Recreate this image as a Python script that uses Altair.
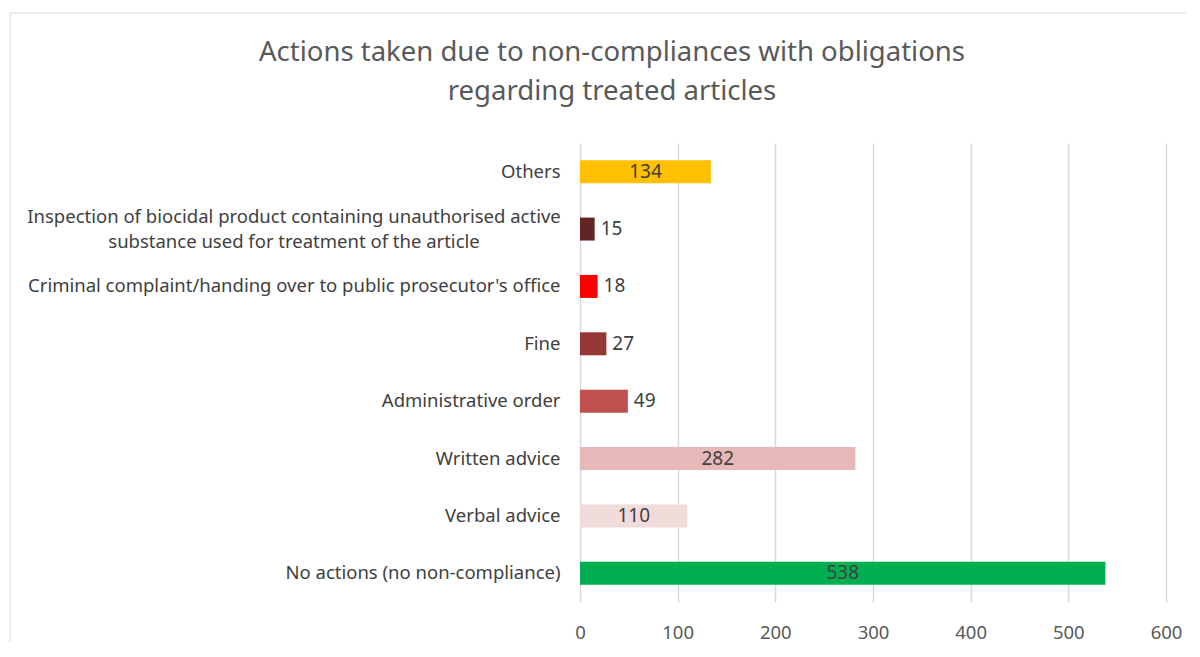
import altair as alt
import pandas as pd

categories = [
    "Others",
    "Inspection of biocidal product containing unauthorised active\nsubstance used for treatment of the article",
    "Criminal complaint/handing over to public prosecutor's office",
    "Fine",
    "Administrative order",
    "Written advice",
    "Verbal advice",
    "No actions (no non-compliance)",
]
values = [134, 15, 18, 27, 49, 282, 110, 538]
colors = ["#FFC000", "#632523", "#FF0000", "#953735", "#C0504D", "#E6B9B8", "#F2DCDB", "#00B050"]
title_lines = ["Actions taken due to non-compliances with obligations", "regarding treated articles"]

df = pd.DataFrame({"cat": categories, "val": values, "color": colors})

FONT = "Noto Sans"
W, H = 586, 459
multi = categories[1]

y_enc = alt.Y("cat:N", sort=None, title=None,
              axis=alt.Axis(labelExpr="indexof(datum.label, '\\n') >= 0 ? '' : datum.label",
                            labelFontSize=18.5, labelColor="#404040", labelPadding=20, ticks=False,
                            domain=False, labelLimit=700, labelFont=FONT))
x_enc = alt.X("val:Q", title=None, scale=alt.Scale(domain=[0, 600], nice=False),
              axis=alt.Axis(values=[0, 100, 200, 300, 400, 500, 600], labelFontSize=18.5,
                            labelColor="#595959", labelPadding=21, ticks=False, domain=False,
                            labelFlush=False, labelOverlap=False,
                            gridColor="#D9D9D9", gridWidth=1.5, labelFont=FONT))

base = alt.Chart(df)

bars = base.mark_bar(size=23).encode(
    y=y_enc, x=x_enc, color=alt.Color("color:N", scale=None)
)

inside = base.transform_filter("datum.val >= 100").transform_calculate(
    mid="datum.val / 2"
).mark_text(fontSize=19, color="#404040", font=FONT, align="center", baseline="middle").encode(
    y=alt.Y("cat:N", sort=None), x=alt.X("mid:Q"), text="val:Q"
)

outside = base.transform_filter("datum.val < 100").mark_text(
    fontSize=19, color="#404040", font=FONT, align="left", baseline="middle", dx=6
).encode(y=alt.Y("cat:N", sort=None), x=alt.X("val:Q"), text="val:Q")

# two-line category label, lines centred on each other as in the reference
multi_label = base.transform_filter(alt.datum.cat == multi).mark_text(
    fontSize=18.5, color="#404040", font=FONT, align="center", baseline="middle",
    lineHeight=25, dy=-12, text=multi.split("\n"), clip=False
).encode(y=alt.Y("cat:N", sort=None), x=alt.value(-286))

first = base.transform_filter("datum.val == 538")

border = first.mark_rect(
    fill=None, stroke="#D9D9D9", strokeWidth=1, clip=False
).encode(x=alt.value(-570), x2=alt.value(619), y=alt.value(-130), y2=alt.value(560))

title = first.mark_text(
    fontSize=27.5, font=FONT, color="#595959", align="center", baseline="middle",
    lineHeight=39, text=title_lines, clip=False
).encode(x=alt.value(32), y=alt.value(-90))

chart = alt.layer(border, bars, inside, outside, multi_label, title).properties(
    width=W, height=H,
    padding={"left": 572, "top": 135, "right": 20, "bottom": 40},
    autosize=alt.AutoSizeParams(type="none"),
).configure_view(stroke=None).configure_axis(grid=True).configure_axisY(grid=False)

chart.save("out.html", embed_options={"renderer": "svg", "actions": False})
